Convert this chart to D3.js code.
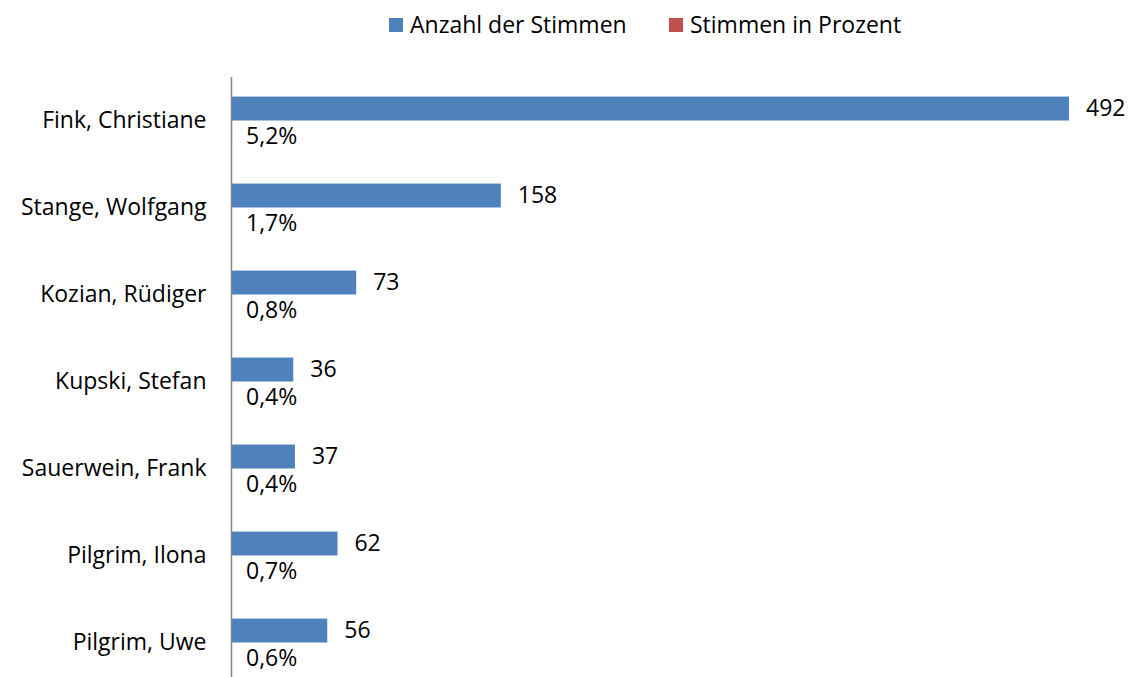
<!DOCTYPE html>
<html><head><meta charset="utf-8">
<script src="https://cdn.jsdelivr.net/npm/d3@7"></script>
<style>body{margin:0;background:#fff}svg{display:block}text{font-family:"Open Sans",Lato,sans-serif;fill:#000}</style>
</head><body>
<svg id="c" width="1131" height="677"></svg>
<script>
const categories = ["Fink, Christiane","Stange, Wolfgang","Kozian, Rüdiger","Kupski, Stefan","Sauerwein, Frank","Pilgrim, Ilona","Pilgrim, Uwe"];
const votes = [492,158,73,36,37,62,56];
const percents = [0.052,0.017,0.008,0.004,0.004,0.007,0.006];
const seriesNames = ["Anzahl der Stimmen","Stimmen in Prozent"];
const colors = ["#4F81BD","#C0504D"];

const FS = 23;
const svg = d3.select("#c");
const x = d3.scaleLinear().domain([0,492]).range([232,1069]);
const y = d3.scaleBand().domain(categories).range([77,686]).paddingInner(0.45).paddingOuter(0.225);
const sub = d3.scaleBand().domain([0,1]).range([0,y.bandwidth()]);
const fmtPct = v => d3.format(".1f")(v*100).replace(".",",")+"%";

const g = svg.append("g");
categories.forEach((c,i)=>{
  g.append("rect").attr("x",x(0)).attr("y",y(c)+sub(0)).attr("width",x(votes[i])-x(0)).attr("height",sub.bandwidth()).attr("fill",colors[0]);
  g.append("rect").attr("x",x(0)).attr("y",y(c)+sub(1)).attr("width",Math.max(0,x(percents[i])-x(0))).attr("height",sub.bandwidth()).attr("fill",colors[1]);
  svg.append("text").attr("x",x(votes[i])+17).attr("y",y(c)+sub(0)+sub.bandwidth()/2-1).attr("dy","0.35em").attr("font-size",FS).text(votes[i]);
  svg.append("text").attr("x",x(percents[i])+14).attr("y",y(c)+sub(1)+sub.bandwidth()/2+3).attr("dy","0.35em").attr("font-size",FS).text(fmtPct(percents[i]));
});

const yAxis = d3.axisLeft(y).tickSize(0).tickPadding(25);
const ag = svg.append("g").attr("transform",`translate(${x(0)-0.5},0)`).call(yAxis);
ag.select(".domain").attr("stroke","#868686").attr("stroke-width",1.5).attr("d",`M0,77V686`);
ag.selectAll("text").attr("font-size",FS).style("font-family","'Open Sans',Lato,sans-serif").attr("fill","#000");

const leg = svg.append("g");
const lx = [389,669];
seriesNames.forEach((n,i)=>{
  leg.append("rect").attr("x",lx[i]).attr("y",18).attr("width",14).attr("height",14).attr("fill",colors[i]);
  leg.append("text").attr("x",lx[i]+21).attr("y",25).attr("dy","0.35em").attr("font-size",FS).text(n);
});
</script>
</body></html>
